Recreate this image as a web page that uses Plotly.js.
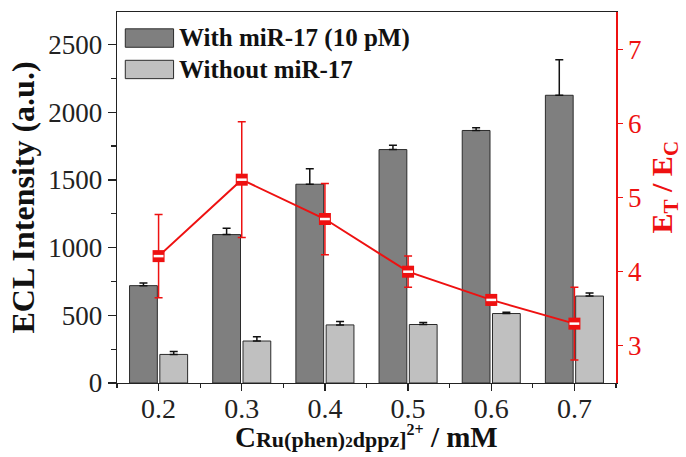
<!DOCTYPE html>
<html>
<head>
<meta charset="utf-8">
<script src="https://cdn.plot.ly/plotly-3.0.1.min.js"></script>
<style>html,body{margin:0;padding:0;background:#fff;}#chart{width:686px;height:457px;}</style>
</head>
<body>
<div id="chart"></div>
<script>
// Data
const concentrations = [0.2, 0.3, 0.4, 0.5, 0.6, 0.7];
const withMiR = [719, 1096, 1468, 1724, 1865, 2125];
const withMiRErr = [20, 47, 114, 32, 20, 263];
const withoutMiR = [211, 310, 429, 432, 513, 642];
const withoutMiRErr = [22, 32, 25, 14, 10, 23];
const ratioETEC = [4.21, 5.24, 4.71, 4.00, 3.62, 3.30];
const ratioErr = [0.56, 0.78, 0.48, 0.21, 0.07, 0.49];
const legendLabels = ['With miR-17 (10 pM)', 'Without miR-17'];

const FONT = '"Liberation Serif", "Times New Roman", Times, serif';
const RED = '#ee1111';

const zeros = concentrations.map(() => 0);

const traces = [
  {
    type: 'bar', x: concentrations, y: withMiR, name: legendLabels[0],
    width: 0.0334, offset: -0.0349,
    marker: {color: '#7f7f7f', line: {color: '#2b2b2b', width: 1}},
    error_y: {type: 'data', symmetric: false, array: withMiRErr, arrayminus: zeros,
              color: '#111', thickness: 1.5, width: 4},
    showlegend: false, hoverinfo: 'skip'
  },
  {
    type: 'bar', x: concentrations, y: withoutMiR, name: legendLabels[1],
    width: 0.0334, offset: 0.0015,
    marker: {color: '#c0c0c0', line: {color: '#2b2b2b', width: 1}},
    error_y: {type: 'data', symmetric: false, array: withoutMiRErr, arrayminus: zeros,
              color: '#111', thickness: 1.5, width: 4},
    showlegend: false, hoverinfo: 'skip'
  },
  {
    type: 'scatter', mode: 'lines+markers', x: concentrations, y: ratioETEC, yaxis: 'y2',
    line: {color: RED, width: 2},
    marker: {symbol: 'square', size: 12, color: RED, line: {color: RED, width: 0}},
    error_y: {type: 'data', symmetric: true, array: ratioErr, color: RED, thickness: 1.5, width: 4},
    showlegend: false, hoverinfo: 'skip'
  },
  {
    type: 'scatter', mode: 'markers', x: concentrations, y: ratioETEC, yaxis: 'y2',
    marker: {symbol: 'line-ew', size: 7, color: '#ffffff', line: {color: '#ffffff', width: 2.5}},
    showlegend: false, hoverinfo: 'skip'
  }
];

// plot area in px: x 116.7..616, y 12.5..382.7
const PW = 499.3, PH = 370.2, PL = 116.7, PB = 382.7;
const px = v => (v - PL) / PW;
const py = v => (PB - v) / PH;

const xTitle = '<b>C<span style="font-size:22px">Ru(phen)</span>' +
               '<span style="font-size:15px">2</span>' +
               '<span style="font-size:22px">dppz]</span>' +
               '<sup><span style="font-size:16px">2+</span></sup> / mM</b>';

const layout = {
  width: 686, height: 457,
  margin: {l: 117, r: 70, t: 12, b: 74, pad: 0},
  paper_bgcolor: '#fff', plot_bgcolor: '#fff',
  barmode: 'overlay',
  font: {family: FONT, color: '#111'},
  xaxis: {
    range: [0.15, 0.75], tick0: 0, dtick: 0.1, tickformat: '.1f',
    ticks: 'outside', ticklen: 7, tickwidth: 1.2, tickcolor: '#222',
    minor: {dtick: 0.05, ticks: 'outside', ticklen: 4, tickwidth: 1.2, tickcolor: '#222'},
    showline: true, linecolor: '#222', linewidth: 1.3, mirror: true,
    showgrid: false, zeroline: false, ticklabelstandoff: -7,
    tickfont: {family: FONT, size: 28, color: '#222'}
  },
  yaxis: {
    range: [0, 2740], tick0: 0, dtick: 500,
    ticks: 'outside', ticklen: 8, tickwidth: 1.2, tickcolor: '#222',
    minor: {dtick: 250, ticks: 'outside', ticklen: 5, tickwidth: 1.2, tickcolor: '#222'},
    showline: true, linecolor: '#222', linewidth: 1.3,
    showgrid: false, zeroline: false,
    tickfont: {family: FONT, size: 27, color: '#222'}
  },
  yaxis2: {
    overlaying: 'y', side: 'right', range: [2.5, 7.5], tick0: 0, dtick: 1,
    ticks: 'outside', ticklen: 5, tickwidth: 1.2, tickcolor: RED,
    showline: true, linecolor: RED, linewidth: 1.5,
    showgrid: false, zeroline: false,
    tickfont: {family: FONT, size: 27, color: RED}
  },
  shapes: [
    {type: 'rect', xref: 'paper', yref: 'paper', x0: px(125), x1: px(173.3), y0: py(47.7), y1: py(29.3),
     fillcolor: '#7f7f7f', line: {color: '#2b2b2b', width: 1}},
    {type: 'rect', xref: 'paper', yref: 'paper', x0: px(125), x1: px(173.3), y0: py(79), y1: py(60.7),
     fillcolor: '#c0c0c0', line: {color: '#2b2b2b', width: 1}}
  ],
  annotations: [
    {xref: 'paper', yref: 'paper', x: px(177), y: py(38.5), xanchor: 'left', yanchor: 'middle',
     text: '<b>' + legendLabels[0] + '</b>', showarrow: false, font: {family: FONT, size: 25, color: '#111'}},
    {xref: 'paper', yref: 'paper', x: px(177), y: py(70), xanchor: 'left', yanchor: 'middle',
     text: '<b>' + legendLabels[1] + '</b>', showarrow: false, font: {family: FONT, size: 25, color: '#111'}},
    {xref: 'paper', yref: 'paper', x: 0, y: 0.5, xshift: -95, xanchor: 'center', yanchor: 'middle',
     textangle: -90, text: '<b>ECL Intensity (a.u.)</b>', showarrow: false,
     font: {family: FONT, size: 32, color: '#111'}},
    {xref: 'paper', yref: 'paper', x: 1, y: 0.5, xshift: 47, yshift: 10, xanchor: 'center', yanchor: 'middle',
     textangle: -90, text: '<b>E<sub>T</sub> / E<sub>C</sub></b>', showarrow: false,
     font: {family: FONT, size: 30, color: RED}},
    {xref: 'paper', yref: 'paper', x: 0.5, y: 0, yshift: -72, xanchor: 'center', yanchor: 'bottom',
     text: xTitle, showarrow: false,
     font: {family: FONT, size: 29, color: '#111'}}
  ]
};

Plotly.newPlot('chart', traces, layout, {displayModeBar: false, staticPlot: true});
</script>
</body>
</html>
